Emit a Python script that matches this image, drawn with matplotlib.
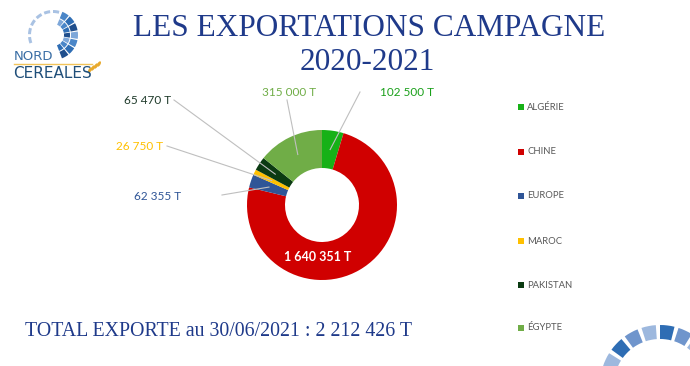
import numpy as np
import matplotlib.pyplot as plt
from matplotlib.patches import Wedge, Ellipse

# données
pays = ['ALGÉRIE', 'CHINE', 'EUROPE', 'MAROC', 'PAKISTAN', 'ÉGYPTE']
tonnes = [102500, 1640351, 62355, 26750, 65470, 315000]
etiquettes = ['102 500 T', '1 640 351 T', '62 355 T', '26 750 T', '65 470 T', '315 000 T']
couleurs = ['#17B117', '#D00000', '#2F5597', '#FFC000', '#0B3B12', '#70AD47']
couleurs_txt = ['#1AA01A', 'white', '#2F5597', '#FFC000', '#1E3A2A', '#70AD47']
total_txt = 'TOTAL EXPORTE au 30/06/2021 : 2 212 426 T'

W, H = 690, 366
def Y(y):
    return H - y

fig = plt.figure(figsize=(6.9, 3.66), dpi=100)
ax = fig.add_axes([0, 0, 1, 1])

cx, cy, R = 322, 205, 75
wedges, _ = ax.pie(tonnes, colors=couleurs, startangle=90, counterclock=False,
                   radius=R, center=(cx, Y(cy)),
                   wedgeprops=dict(width=38, linewidth=0))
ax.set_xlim(0, W)
ax.set_ylim(0, H)
ax.set_aspect('equal')
ax.axis('off')

# étiquettes avec lignes de rappel (position du texte, début de ligne, alignement)
pos = {
    0: ((380, 93), (360, 92), 'left'),
    2: ((181, 196), (222, 195), 'right'),
    3: ((163, 146), (167, 146), 'right'),
    4: ((171, 100), (174, 100), 'right'),
    5: ((289, 93), (287, 100), 'center'),
}
for i, w in enumerate(wedges):
    mid = np.radians((w.theta1 + w.theta2) / 2)
    px = cx + 56 * np.cos(mid)
    py = Y(cy) + 56 * np.sin(mid)
    if i == 1:
        ax.text(318, Y(257), etiquettes[i], color='white', fontsize=9,
                fontweight='bold', family='Lato', ha='center', va='center')
        continue
    (tx, ty), (lx, ly), ha = pos[i]
    ax.plot([lx, px], [Y(ly), py], color='#BFBFBF', lw=0.8, zorder=1)
    ax.text(tx, Y(ty), etiquettes[i], color=couleurs_txt[i], fontsize=8.5,
            family='Lato', ha=ha, va='center')

# légende
ys = [107, 152, 196, 241, 285, 328]
for i, p in enumerate(pays):
    ax.scatter(521, Y(ys[i]), marker='s', s=22, color=couleurs[i], linewidths=0)
    ax.text(527, Y(ys[i]), p, fontsize=6.8, color='#595959', family='Lato', va='center')

# titre
ax.text(369, Y(28), 'LES EXPORTATIONS CAMPAGNE', fontsize=22.5, color='#1F3A8A',
        family='Liberation Serif', ha='center', va='center')
ax.text(367, Y(62), '2020-2021', fontsize=22.5, color='#1F3A8A',
        family='Liberation Serif', ha='center', va='center')
ax.text(25, Y(331), total_txt, fontsize=14.3, color='#1F3A8A',
        family='Liberation Serif', ha='left', va='center')

# logo
gx, gy = 53, Y(35)
bleus = ['#1F4E8C', '#2E6DB4', '#4A86C8', '#7DA7D9']
for k, a0 in enumerate(range(-70, 70, 20)):
    for j, (r1, r2) in enumerate([(25, 18), (17, 11)]):
        ax.add_patch(Wedge((gx, gy), r1, a0 + 1, a0 + 18, width=r1 - r2,
                           color=bleus[(k + j) % 4], lw=0))
for a0 in range(75, 200, 22):
    ax.add_patch(Wedge((gx, gy), 25, a0, a0 + 15, width=3, color='#A9C2E3', lw=0))
ax.text(14, Y(57), 'NORD', fontsize=9.5, color='#3A6EA5', family='DejaVu Sans',
        va='center')
ax.plot([14, 92], [Y(64), Y(64)], color='#F2C45A', lw=1)
ax.text(13, Y(74), 'CEREALES', fontsize=11, color='#1F4E79', family='DejaVu Sans',
        va='center')
for k in range(4):
    ax.add_patch(Ellipse((90 + k * 3, Y(70 - k * 2)), 3, 6, angle=-30, color='#E8A92C', lw=0))

# globe décoratif en bas à droite
bx, by = 660, Y(385)
for k, a0 in enumerate(range(40, 180, 18)):
    ax.add_patch(Wedge((bx, by), 60, a0, a0 + 14, width=14,
                       color=['#9DB8DE', '#6F95CC', '#2E6DB4'][k % 3], lw=0))

fig.savefig('out.png', dpi=100)
